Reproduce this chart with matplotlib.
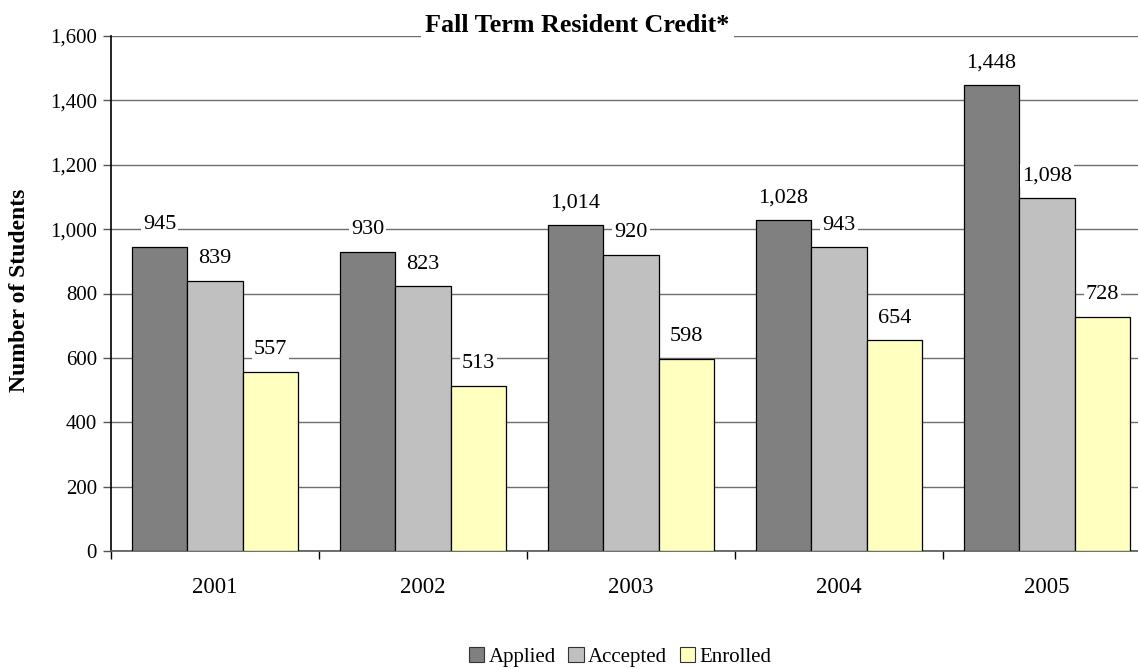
import matplotlib
matplotlib.use("Agg")
import matplotlib.pyplot as plt
from matplotlib.patches import Patch
import numpy as np

years = ["2001", "2002", "2003", "2004", "2005"]
applied = [945, 930, 1014, 1028, 1448]
accepted = [839, 823, 920, 943, 1098]
enrolled = [557, 513, 598, 654, 728]
series_names = ["Applied", "Accepted", "Enrolled"]
colors = ["#808080", "#C0C0C0", "#FFFFC0"]

plt.rcParams['font.family'] = ['Liberation Serif', 'DejaVu Serif']
W, H = 1138, 669
fig = plt.figure(figsize=(W / 100, H / 100), dpi=100)
ax = fig.add_axes([111 / W, (H - 551) / H, (1151 - 111) / W, (551 - 36) / H])

x = np.arange(len(years))
bw = 0.8 / 3
for k, (vals, col) in enumerate(zip([applied, accepted, enrolled], colors)):
    xs = x + (k - 1) * bw
    ax.bar(xs, vals, width=bw, color=col, edgecolor="#000000", linewidth=0.9, zorder=3)
    for xi, v in zip(xs, vals):
        ax.annotate(f"{v:,}", (xi, v), xytext=(0, 9), textcoords="offset points",
                    ha="center", va="bottom", fontsize=16, zorder=4,
                    bbox=dict(facecolor="white", edgecolor="none", pad=1.5))

ax.set_xlim(-0.5, 4.5)
ax.set_ylim(0, 1600)
ax.set_yticks(np.arange(0, 1601, 200))
ax.set_yticklabels([f"{v:,}" for v in range(0, 1601, 200)], fontsize=15)
ax.set_xticks(x)
ax.set_xticklabels(years, fontsize=16.5)
ax.set_xticks(np.arange(-0.5, 4.6, 1), minor=True)
ax.tick_params(axis="x", which="major", length=0, pad=19)
ax.tick_params(axis="x", which="minor", length=6, width=1, color="black", direction="out")
ax.tick_params(axis="y", length=6, width=1, color="#555555", pad=4)
ax.yaxis.grid(True, color="#6e6e6e", linewidth=1)
ax.set_axisbelow(True)
for s in ["top", "right"]:
    ax.spines[s].set_visible(False)
ax.spines["left"].set_color("black")
ax.spines["left"].set_linewidth(1.2)
ax.spines["bottom"].set_color("#555555")
ax.spines["bottom"].set_linewidth(1.2)

fig.text(20 / W, 1 - 290 / H, "Number of Students", rotation=90, ha="center", va="center",
         fontsize=17, fontweight="bold")

fig.text(577.5 / W, 1 - 25 / H, "Fall Term Resident Credit*", ha="center", va="center",
         fontsize=18.8, fontweight="bold",
         bbox=dict(facecolor="white", edgecolor="none", pad=3))

handles = [Patch(facecolor=c, edgecolor="#333333", linewidth=0.8, label=n)
           for c, n in zip(colors, series_names)]
fig.legend(handles=handles, loc="center", bbox_to_anchor=(620 / W, 1 - 657 / H), ncol=3,
           frameon=False, fontsize=15, handlelength=0.75, handleheight=0.75,
           handletextpad=0.2, columnspacing=0.6, borderpad=0)

fig.savefig("out.png", dpi=100)
